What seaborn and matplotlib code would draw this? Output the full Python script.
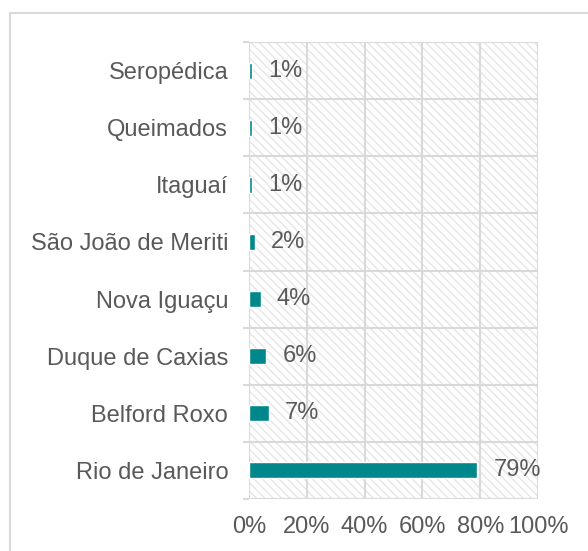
"""Horizontal bar chart: share by municipality (Rio de Janeiro metro area)."""

import matplotlib
matplotlib.use("Agg")
import matplotlib.pyplot as plt
import matplotlib.patches as mpatches
from matplotlib.ticker import FixedLocator, PercentFormatter
import seaborn as sns

# ── Data (top to bottom, as in the reference) ─────────────────────────────
cities = [
    "Seropédica",
    "Queimados",
    "Itaguaí",
    "São João de Meriti",
    "Nova Iguaçu",
    "Duque de Caxias",
    "Belford Roxo",
    "Rio de Janeiro",
]
shares = [1, 1, 1, 2, 4, 6, 7, 79]
x_ticks = [0, 20, 40, 60, 80, 100]

BAR_COLOR = "#00878C"
GRID_COLOR = "#D9D9D9"
TEXT_COLOR = "#595959"

sns.set_style("white")
plt.rcParams["font.family"] = ["Liberation Sans", "DejaVu Sans"]
plt.rcParams["hatch.linewidth"] = 1.0

fig = plt.figure(figsize=(5.88, 5.51), dpi=100)
ax = fig.add_axes([249 / 588, 1 - 499 / 551, 289 / 588, 457 / 551])

sns.barplot(x=shares, y=cities, orient="h", color=BAR_COLOR, saturation=1,
            width=0.28, ax=ax, zorder=3)

# hatched plot background
bg = mpatches.Rectangle((0, 0), 1, 1, transform=ax.transAxes, facecolor="white",
                        edgecolor="#E6E6E6", hatch="\\\\\\\\", lw=0, zorder=0)
ax.add_patch(bg)

ax.set_xlim(0, 100)
ax.set_ylim(len(cities) - 0.5, -0.5)
ax.xaxis.set_major_locator(FixedLocator(x_ticks))
ax.xaxis.set_major_formatter(PercentFormatter(decimals=0))

# grid: vertical at x ticks, horizontal at row boundaries
ax.set_axisbelow(True)
ax.grid(axis="x", which="major", color=GRID_COLOR, lw=1.5, zorder=1)
ax.yaxis.set_minor_locator(FixedLocator([i - 0.5 for i in range(len(cities) + 1)]))
ax.grid(axis="y", which="minor", color=GRID_COLOR, lw=1.5, zorder=1)
ax.grid(axis="y", which="major", visible=False)

for side in ax.spines.values():
    side.set_visible(False)

ax.tick_params(axis="y", which="major", length=0, pad=15, labelsize=17,
               labelcolor=TEXT_COLOR)
ax.tick_params(axis="y", which="minor", length=4.5, width=1.5, color=GRID_COLOR,
               left=True)
ax.tick_params(axis="x", which="major", length=0, pad=12, labelsize=17,
               labelcolor=TEXT_COLOR)
ax.set_xlabel("")
ax.set_ylabel("")

# data labels
for i, v in enumerate(shares):
    ax.annotate(f"{v}%", (v, i), xytext=(11.5, 0), textcoords="offset points",
                ha="left", va="center", fontsize=17, color=TEXT_COLOR)

# outer chart border (cut off on right and bottom)
border = mpatches.Rectangle((10 / 588, -0.05), 1.1, 1 - 13 / 551 + 0.05,
                            transform=fig.transFigure, fill=False,
                            edgecolor=GRID_COLOR, lw=1.5, clip_on=False)
fig.patches.append(border)

fig.savefig("out.png", dpi=100)
